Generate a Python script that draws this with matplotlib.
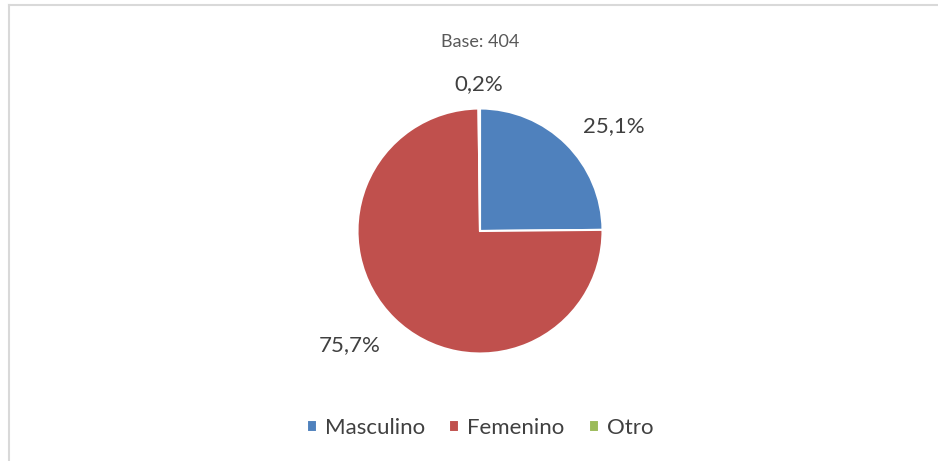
import matplotlib.pyplot as plt

CATEGORIES = ["Masculino", "Femenino", "Otro"]
VALUES = [25.1, 75.7, 0.2]  # percentages as printed on the chart
LABELS = ["25,1%", "75,7%", "0,2%"]
COLORS = ["#4F81BD", "#C0504D", "#9BBB59"]
SUBTITLE = "Base: 404"


def main():
    plt.rcParams["font.family"] = ["Lato", "DejaVu Sans"]

    fig = plt.figure(figsize=(9.38, 4.61), dpi=100)

    # pie centre at (480, 231) px, radius ~122 px
    W, H = 938, 461
    cx, cy, r = 480, 231, 122.5
    ax = fig.add_axes([(cx - r) / W, (H - cy - r) / H, 2 * r / W, 2 * r / H])

    wedges, texts = ax.pie(VALUES,
                           labels=LABELS,
                           colors=COLORS,
                           startangle=90,
                           counterclock=False,
                           labeldistance=1.2,
                           wedgeprops=dict(edgecolor="white", linewidth=1.5),
                           textprops=dict(fontsize=16, color="#404040"))
    ax.set_xlim(-1, 1)
    ax.set_ylim(-1, 1)
    ax.set_aspect("equal")
    texts[2].set_ha("center")
    # nudge the big-slice label a bit lower, like the source
    x, y = texts[1].get_position()
    texts[1].set_position((x * 0.97, y * 1.085))

    fig.text(cx / W, 1 - 42 / H, SUBTITLE, ha="center", va="center",
             fontsize=13, color="#595959")

    fig.legend(wedges, CATEGORIES,
               loc="center",
               bbox_to_anchor=(cx / W, 1 - 428 / H),
               ncol=3,
               frameon=False,
               fontsize=16,
               labelcolor="#404040",
               handlelength=0.45,
               handleheight=0.45,
               handletextpad=0.35,
               columnspacing=1.1)

    # light gray frame lines (top and left) like the source
    fig.add_artist(plt.Line2D([9 / W, 1], [1 - 5 / H, 1 - 5 / H],
                              color="#D9D9D9", linewidth=1.5))
    fig.add_artist(plt.Line2D([9 / W, 9 / W], [0, 1 - 5 / H],
                              color="#D9D9D9", linewidth=1.5))

    fig.savefig("out.png", dpi=100, facecolor="white")


if __name__ == "__main__":
    main()
